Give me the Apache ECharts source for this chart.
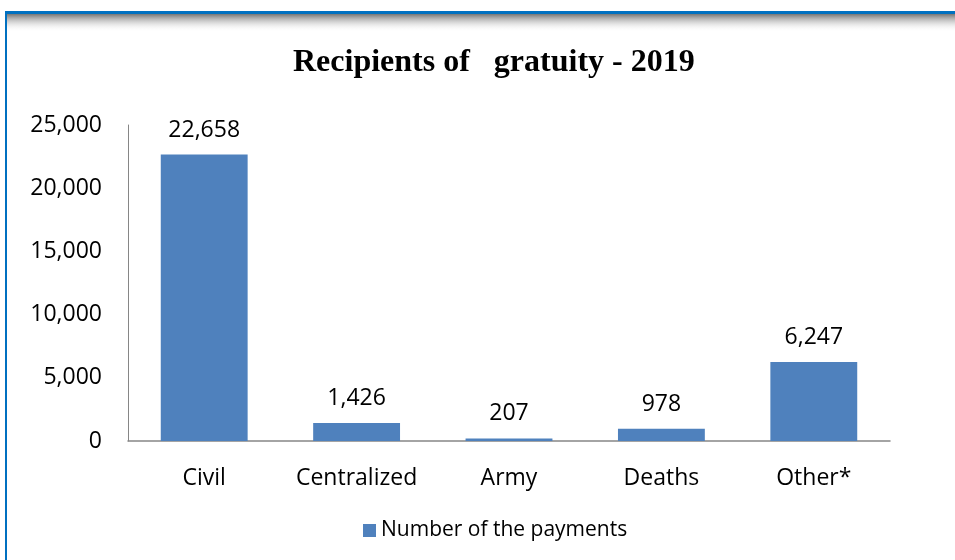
<!DOCTYPE html>
<html><head><meta charset="utf-8">
<script src="https://cdn.jsdelivr.net/npm/echarts@6/dist/echarts.min.js"></script>
<style>html,body{margin:0;padding:0;background:#fff}#c{width:955px;height:560px}</style>
</head><body><div id="c"></div>
<script>
const categories = ['Civil', 'Centralized', 'Army', 'Deaths', 'Other*'];
const payments = [22658, 1426, 207, 978, 6247];
const seriesName = 'Number of the payments';
const titleText = 'Recipients of   gratuity - 2019';

const chart = echarts.init(document.getElementById('c'));
const font = '"Open Sans", "DejaVu Sans", sans-serif';
chart.setOption({
  animation: false,
  backgroundColor: '#fff',
  title: {
    text: titleText, left: 288, top: 42,
    textStyle: { fontFamily: '"Liberation Serif", serif', fontWeight: 'bold', fontSize: 32, color: '#000' }
  },
  legend: {
    bottom: 14, left: 358, itemWidth: 13, itemHeight: 13, itemGap: 7,
    icon: 'rect',
    textStyle: { fontFamily: font, fontSize: 21, color: '#000' },
    data: [seriesName]
  },
  grid: { left: 128, right: 65, top: 125, bottom: 119, containLabel: false },
  xAxis: {
    type: 'category', data: categories,
    axisLine: { lineStyle: { color: '#868686', width: 1.5 } },
    axisTick: { show: false },
    axisLabel: { fontFamily: font, fontSize: 23, color: '#000', margin: 26, interval: 0, hideOverlap: false }
  },
  yAxis: {
    type: 'value', min: 0, max: 25000, interval: 5000,
    axisLine: { show: true, lineStyle: { color: '#868686', width: 1 } },
    axisTick: { show: false },
    splitLine: { show: false },
    axisLabel: { fontFamily: font, fontSize: 23, color: '#000', margin: 26,
      formatter: v => v.toLocaleString('en-US') }
  },
  series: [{
    name: seriesName, type: 'bar', data: payments, barWidth: '57%',
    itemStyle: { color: '#4f81bd' },
    label: { show: true, position: 'top', distance: 13, fontFamily: font, fontSize: 23, color: '#000',
      formatter: p => p.value.toLocaleString('en-US') }
  }],
  graphic: [
    { type: 'rect', shape: { x: 7, y: 14, width: 948, height: 18 }, silent: true,
      style: { fill: new echarts.graphic.LinearGradient(0, 0, 0, 1, [
        { offset: 0, color: 'rgba(110,110,110,0.95)' }, { offset: 1, color: 'rgba(255,255,255,0)' }]) } },
    { type: 'rect', shape: { x: 5, y: 11, width: 950, height: 3 }, silent: true, style: { fill: '#0070c0' } },
    { type: 'rect', shape: { x: 5, y: 11, width: 2, height: 549 }, silent: true, style: { fill: '#0070c0' } }
  ]
});
</script></body></html>
